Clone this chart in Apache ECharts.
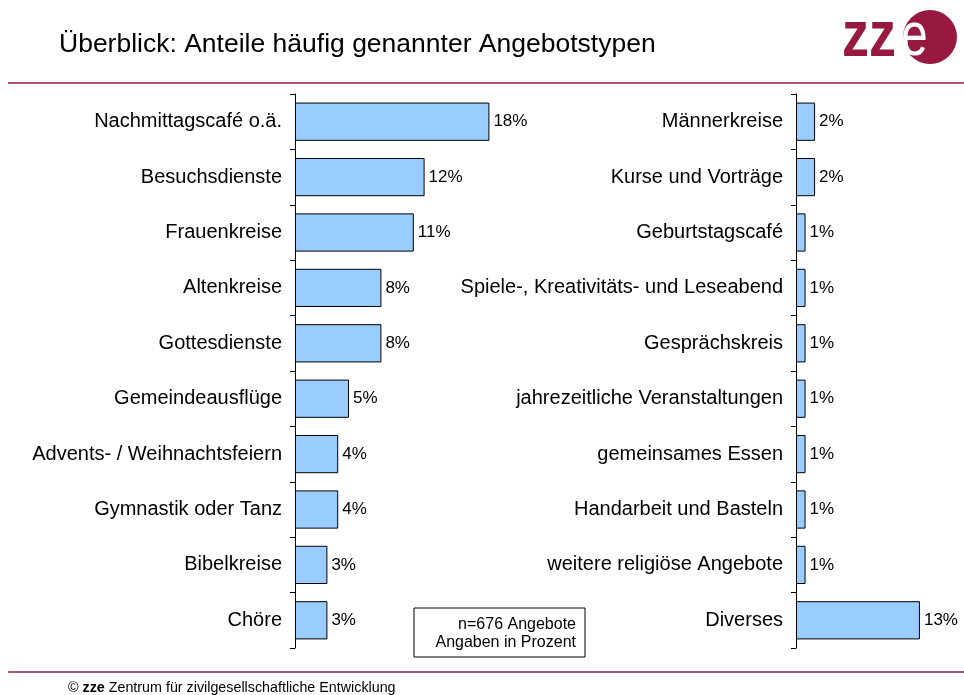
<!DOCTYPE html>
<html><head><meta charset="utf-8">
<script src="https://cdn.jsdelivr.net/npm/echarts@6/dist/echarts.min.js"></script>
<style>html,body{margin:0;padding:0;background:#fff}#c{width:964px;height:695px}</style>
</head><body><div id="c"></div>
<script>
const leftCategories = ['Nachmittagscafé o.ä.','Besuchsdienste','Frauenkreise','Altenkreise','Gottesdienste','Gemeindeausflüge','Advents- / Weihnachtsfeiern','Gymnastik oder Tanz','Bibelkreise','Chöre'];
const leftValues = [18,12,11,8,8,5,4,4,3,3];
const rightCategories = ['Männerkreise','Kurse und Vorträge','Geburtstagscafé','Spiele-, Kreativitäts- und Leseabend','Gesprächskreis','jahrezeitliche Veranstaltungen','gemeinsames Essen','Handarbeit und Basteln','weitere religiöse Angebote','Diverses'];
const rightValues = [2,2,1,1,1,1,1,1,1,13];
const titleText = 'Überblick: Anteile häufig genannter Angebotstypen';
const noteLines = ['n=676 Angebote','Angaben in Prozent'];

const FONT = '"Liberation Sans", Arial, Helvetica, sans-serif';
const WINE = '#97193f';
const chart = echarts.init(document.getElementById('c'), null, {renderer:'canvas'});

function yAx(grid, cats){
  return {type:'category', gridIndex:grid, data:cats, inverse:true,
    axisLine:{show:true, lineStyle:{color:'#000', width:1}},
    axisTick:{show:true, length:5, lineStyle:{color:'#000'}},
    axisLabel:{fontFamily:FONT, fontSize:20, color:'#000', margin:13}};
}
function xAx(grid, max){
  return {type:'value', gridIndex:grid, min:0, max:max, show:false, splitLine:{show:false}};
}
function barSeries(idx, vals){
  return {type:'bar', xAxisIndex:idx, yAxisIndex:idx, data:vals, barWidth:'69%',
    itemStyle:{color:'#99ccff', borderColor:'#000', borderWidth:1},
    label:{show:true, position:'right', distance:4, formatter:'{c}%', fontFamily:FONT, fontSize:17, color:'#000'},
    silent:true, animation:false};
}

chart.setOption({
  animation:false,
  title:{text:titleText, left:54, top:26, textStyle:{fontFamily:FONT, fontSize:26.5, fontWeight:'normal', color:'#000'}},
  grid:[{left:295, top:94, width:216, bottom:47},{left:796, top:94, width:143, bottom:47}],
  xAxis:[xAx(0,20), xAx(1,15)],
  yAxis:[yAx(0,leftCategories), yAx(1,rightCategories)],
  series:[barSeries(0,leftValues), barSeries(1,rightValues)],
  graphic:[
    {type:'line', shape:{x1:8,y1:83,x2:964,y2:83}, style:{stroke:WINE, lineWidth:1.5}},
    {type:'line', shape:{x1:8,y1:672,x2:964,y2:672}, style:{stroke:WINE, lineWidth:1.5}},
    {type:'rect', shape:{x:414,y:608,width:171,height:49}, style:{fill:'#fff', stroke:'#000', lineWidth:1}},
    {type:'text', x:576, y:625, style:{text:noteLines[0], fontFamily:FONT, fontSize:16, fill:'#000', align:'right', verticalAlign:'middle'}},
    {type:'text', x:576, y:643, style:{text:noteLines[1], fontFamily:FONT, fontSize:16, fill:'#000', align:'right', verticalAlign:'middle'}},
    {type:'text', x:68, y:688, style:{text:'{s|© }{b|zze}{s| Zentrum für zivilgesellschaftliche Entwicklung}', verticalAlign:'middle',
      rich:{s:{fontFamily:FONT, fontSize:14.3, fill:'#000'}, b:{fontFamily:FONT, fontSize:14.3, fontWeight:'bold', fill:'#000'}}}},
    {type:'circle', shape:{cx:930, cy:37, r:27}, style:{fill:WINE}},
    {type:'text', x:842, y:38, scaleY:1.21, style:{text:'zz', fontFamily:FONT, fontSize:54, fontWeight:'bold', fill:WINE, verticalAlign:'middle'}},
    {type:'text', x:901, y:38, scaleY:1.28, style:{text:'e', fontFamily:FONT, fontSize:48, fill:'#fff', verticalAlign:'middle'}}
  ]
});
</script></body></html>
